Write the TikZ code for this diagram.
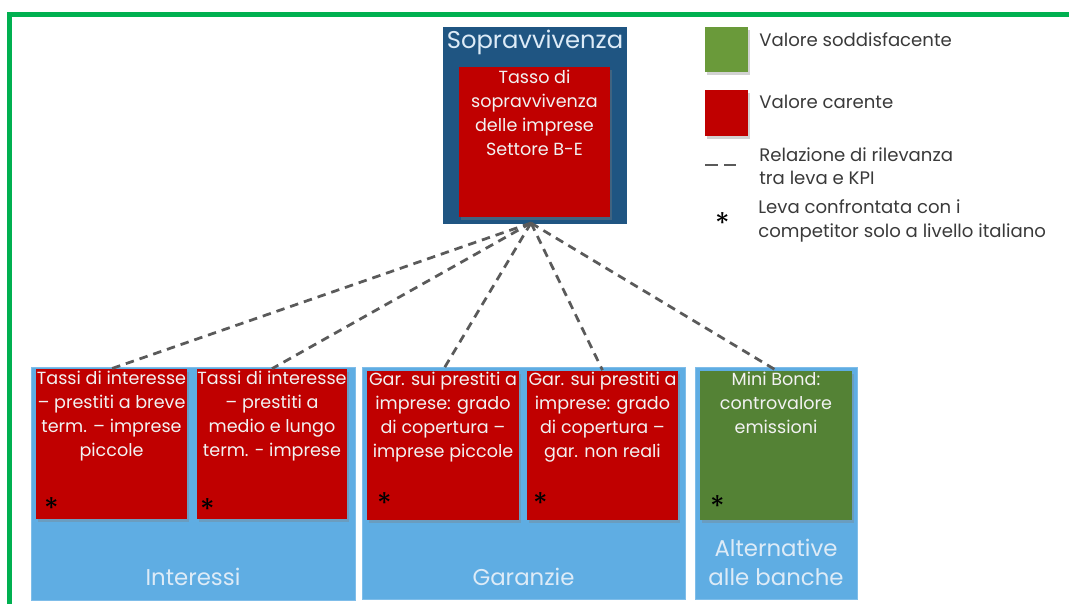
\documentclass[tikz,border=0pt]{standalone}
\usepackage{fontspec}
\setmainfont{Poppins}
\usetikzlibrary{shadows}
\definecolor{frameg}{HTML}{00B050}
\definecolor{navy}{HTML}{1F5582}
\definecolor{kred}{HTML}{C00000}
\definecolor{kgreen}{HTML}{548235}
\definecolor{lgreen}{HTML}{6A9A3A}
\definecolor{grpblue}{HTML}{5FADE3}
\definecolor{paletxt}{HTML}{DDEBF7}
\definecolor{legtxt}{HTML}{3A3A3A}
\definecolor{dashg}{HTML}{5A5A5A}
\begin{document}
\begin{tikzpicture}[x=0.02cm,y=-0.02cm,
  sh/.style={drop shadow={shadow xshift=0.04cm,shadow yshift=-0.06cm,opacity=0.35}},
  kpibox/.style={draw=none,fill=kred,sh,inner sep=0,minimum width=#1*0.02cm,minimum height=3.0cm},
  grpbox/.style={draw=grpblue!80!white,line width=0.4pt,fill=grpblue,inner sep=0},
  boxtxt/.style={anchor=north,align=center,text=white!95!black,font=\fontsize{10}{13.6}\selectfont,inner sep=0},
  grptxt/.style={align=center,text=paletxt,font=\fontsize{13}{16.5}\selectfont,inner sep=0},
  legtext/.style={anchor=west,align=left,text=legtxt,font=\fontsize{10.3}{13.2}\selectfont,inner sep=0},
  star/.style={font=\fontsize{17}{17}\selectfont,text=black,inner sep=0},
  rel/.style={draw=dashg,line width=0.055cm,dash pattern=on 0.17cm off 0.12cm}
]
\useasboundingbox (0,0) rectangle (1069,603);
\fill[white] (0,0) rectangle (1069,603);
% green frame
\draw[frameg,line width=0.1cm] (9.5,640) -- (9.5,14.5) -- (1100,14.5);

% top KPI group
\node[fill=navy,inner sep=0,minimum width=3.68cm,minimum height=3.94cm] (sop) at (535,125.5) {};
\node[text=paletxt,font=\fontsize{13.8}{15}\selectfont,inner sep=0] (soptitle) at (535,42) {Sopravvivenza};
\node[kpibox=151] (kpi) at (534.5,142) {};
\node[boxtxt] (kpitxt) at (534.5,70) {Tasso di\\sopravvivenza\\delle imprese\\Settore B-E};
\coordinate (hub) at (531,223);

% group boxes
\node[grpbox,minimum width=6.48cm,minimum height=4.66cm] (gint) at (193,483.5) {};
\node[grpbox,minimum width=6.46cm,minimum height=4.64cm] (ggar) at (523.5,483) {};
\node[grpbox,minimum width=3.24cm,minimum height=4.64cm] (galt) at (776,483) {};
\node[grptxt] (lint) at (193,577) {Interessi};
\node[grptxt] (lgar) at (523.5,577) {Garanzie};
\node[grptxt] (lalt) at (776,562) {Alternative\\alle banche};

% lever boxes
\node[kpibox=151] (b1) at (111.5,444) {};
\node[kpibox=150] (b2) at (272,444) {};
\node[kpibox=152] (b3) at (443,445.5) {};
\node[kpibox=151] (b4) at (602.5,445.5) {};
\node[kpibox=152,fill=kgreen] (b5) at (776,445.5) {};

\node[boxtxt] (t1) at (111.5,371) {Tassi di interesse\\– prestiti a breve\\term. – imprese\\piccole};
\node[boxtxt] (t2) at (272,371) {Tassi di interesse\\– prestiti a\\medio e lungo\\term. - imprese};
\node[boxtxt] (t3) at (443,372) {Gar. sui prestiti a\\imprese: grado\\di copertura –\\imprese piccole};
\node[boxtxt] (t4) at (602.5,372) {Gar. sui prestiti a\\imprese: grado\\di copertura –\\gar. non reali};
\node[boxtxt] (t5) at (776,372) {Mini Bond:\\controvalore\\emissioni};

\node[star] (s1) at (52,509) {*};
\node[star] (s2) at (208,510) {*};
\node[star] (s3) at (385,504) {*};
\node[star] (s4) at (541,504) {*};
\node[star] (s5) at (718,507) {*};

% relations
\draw[rel] (hub) -- (b1.north);
\draw[rel] (hub) -- (b2.north);
\draw[rel] (hub) -- (b3.north);
\draw[rel] (hub) -- (b4.north);
\draw[rel] (hub) -- (b5.north);

% legend
\node[fill=lgreen,sh,inner sep=0,minimum width=0.86cm,minimum height=0.9cm] (lg) at (726.5,49.5) {};
\node[fill=kred,sh,inner sep=0,minimum width=0.86cm,minimum height=0.92cm] (lr) at (726.5,113) {};
\node[legtext] (lgt) at (759,40) {Valore soddisfacente};
\node[legtext] (lrt) at (759,102) {Valore carente};
\coordinate (d1a) at (705,165);
\coordinate (d1b) at (718,165);
\coordinate (d2a) at (724,165);
\coordinate (d2b) at (736,165);
\draw[dashg,line width=0.04cm] (d1a) -- (d1b);
\draw[dashg,line width=0.04cm] (d2a) -- (d2b);
\node[legtext] (ldt) at (759,166) {Relazione di rilevanza\\tra leva e KPI};
\node[star] (ls) at (723,224) {*};
\node[legtext] (lst) at (758,221) {Leva confrontata con i\\competitor solo a livello italiano};
\end{tikzpicture}
\end{document}
